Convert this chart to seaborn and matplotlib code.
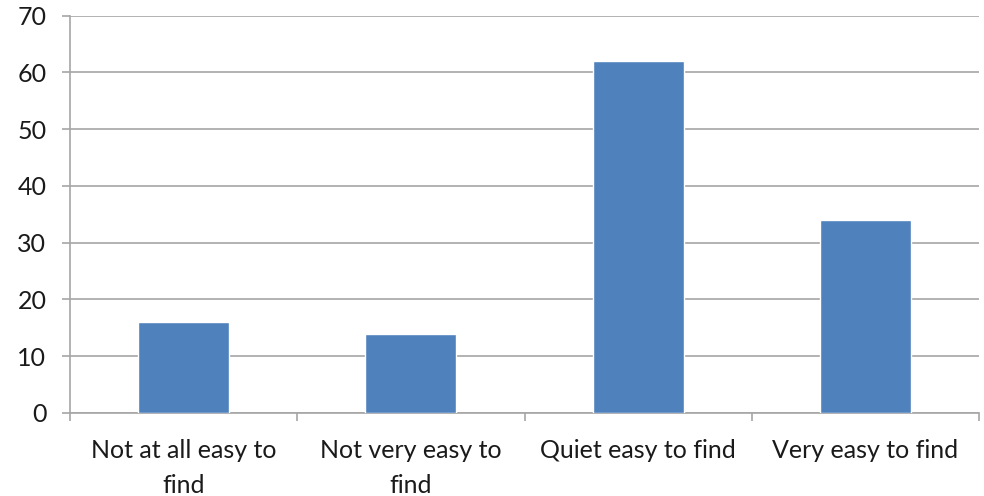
import matplotlib
matplotlib.use("Agg")
import matplotlib.pyplot as plt
import seaborn as sns
import pandas as pd

categories = ["Not at all easy to\nfind", "Not very easy to\nfind", "Quiet easy to find", "Very easy to find"]
values = [16, 14, 62, 34]
y_ticks = [0, 10, 20, 30, 40, 50, 60, 70]

sns.set_theme(style="white")
plt.rcParams["font.family"] = ["Lato", "DejaVu Sans"]

df = pd.DataFrame({"category": categories, "value": values})

fig = plt.figure(figsize=(9.84, 4.96), dpi=100)
ax = fig.add_axes([70 / 984, 1 - 413 / 496, (979 - 70) / 984, (413 - 15.5) / 496])

grid_color = "#A6A6A6"
sns.barplot(data=df, x="category", y="value", color="#4F81BD", width=0.4,
            saturation=1, ax=ax, zorder=3)

ax.set_ylim(0, 70)
ax.set_xlim(-0.5, len(categories) - 0.5)
ax.set_yticks(y_ticks)
ax.yaxis.grid(True, color=grid_color, linewidth=1.2, zorder=0)
ax.set_axisbelow(True)
ax.set_xlabel("")
ax.set_ylabel("")

for side in ["top", "right"]:
    ax.spines[side].set_visible(False)
for side in ["left", "bottom"]:
    ax.spines[side].set_color(grid_color)
    ax.spines[side].set_linewidth(1.2)

# category boundary tick marks below the axis
ax.set_xticks([i - 0.5 for i in range(len(categories) + 1)], minor=True)
ax.tick_params(axis="x", which="minor", length=6, width=1.2, color=grid_color, bottom=True)
ax.tick_params(axis="x", which="major", length=0, pad=19, labelsize=18, labelcolor="#1a1a1a")
ax.tick_params(axis="y", which="major", length=6, width=1.2, color=grid_color, left=True,
               pad=11, labelsize=18, labelcolor="#1a1a1a")
for lbl in ax.get_xticklabels():
    lbl.set_linespacing(1.6)

fig.savefig("out.png", dpi=100)
